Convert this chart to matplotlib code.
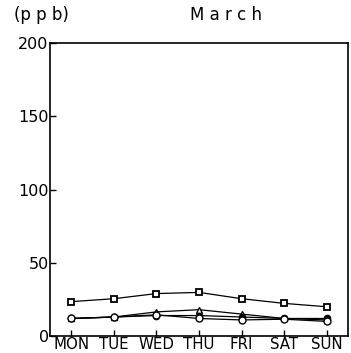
"""
March weekly profile (ppb) — recreated line chart.
"""

import matplotlib
matplotlib.use("Agg")
import matplotlib.pyplot as plt

# ── Data ─────────────────────────────────────────────────────────
DAYS = ["MON", "TUE", "WED", "THU", "FRI", "SAT", "SUN"]
squares = [23.5, 25.5, 29.0, 29.8, 25.5, 22.3, 20.0]
upper_low = [12.0, 13.0, 16.5, 18.0, 15.0, 12.0, 11.0]
filled = [12.0, 13.0, 14.0, 14.0, 13.0, 12.0, 12.0]
open_circ = [12.0, 13.0, 14.5, 12.0, 11.0, 11.5, 10.0]
Y_TICKS = [0, 50, 100, 150, 200]

# ── Figure ───────────────────────────────────────────────────────
fig = plt.figure(figsize=(3.51, 3.53), dpi=100)
ax = fig.add_axes([0.1425, 0.048, 0.849, 0.83])

x = list(range(len(DAYS)))
ax.plot(x, squares, color="black", linewidth=0.9, marker="s", markersize=5,
        markerfacecolor="white", markeredgewidth=1.3)
ax.plot(x, upper_low, color="black", linewidth=0.9, marker="^", markersize=4.5,
        markerfacecolor="white", markeredgewidth=1.0)
ax.plot(x, filled, color="black", linewidth=0.9, marker="o", markersize=4.5,
        markerfacecolor="black")
ax.plot(x, open_circ, color="black", linewidth=0.9, marker="o", markersize=5,
        markerfacecolor="white", markeredgewidth=1.0)

ax.set_xlim(-0.5, 6.5)
ax.set_ylim(0, 200)
ax.set_xticks(x)
ax.set_xticklabels(DAYS, fontsize=10.8)
ax.set_yticks(Y_TICKS)
ax.set_yticklabels([str(v) for v in Y_TICKS], fontsize=11.5)
ax.tick_params(direction="in", length=4, width=1, pad=1)
ax.tick_params(axis="x", pad=1)
for side in ax.spines.values():
    side.set_linewidth(1.2)

fig.text(0.04, 0.958, "(p p b)", fontsize=12, ha="left", va="center")
fig.text(0.54, 0.958, "M a r c h", fontsize=12, ha="left", va="center")

fig.savefig("out.png", dpi=100)
